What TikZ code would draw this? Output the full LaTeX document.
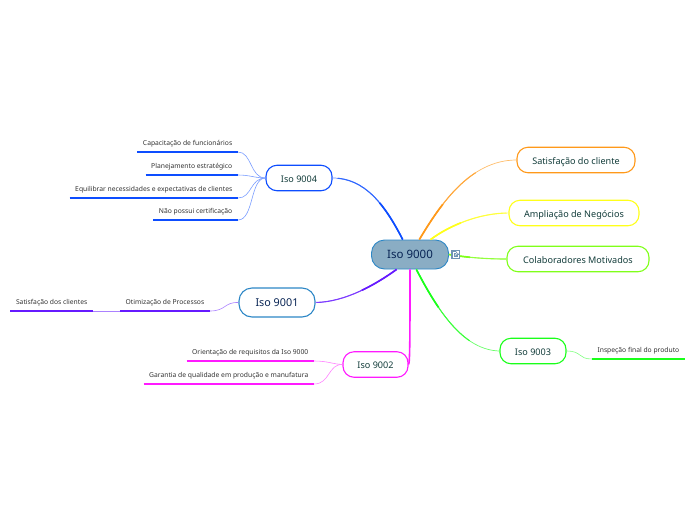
\documentclass[tikz,border=0pt]{standalone}
\usepackage{fontspec}
\setmainfont{Noto Sans}
\usepackage{xcolor}
\usepackage{tikz}
\usetikzlibrary{positioning, calc}
\definecolor{rootfill}{RGB}{138,173,196}
\definecolor{rootline}{RGB}{45,135,198}
\definecolor{mynavy}{RGB}{8,36,84}
\definecolor{mygreen}{RGB}{18,60,58}
\definecolor{leaftext}{RGB}{50,50,50}
\definecolor{myorange}{RGB}{255,153,26}
\definecolor{myyellow}{RGB}{255,255,26}
\definecolor{mylime}{RGB}{128,255,26}
\definecolor{mygrass}{RGB}{26,255,26}
\definecolor{mymagenta}{RGB}{255,26,255}
\definecolor{mypurple}{RGB}{102,26,255}
\definecolor{myblue}{RGB}{13,77,255}
\definecolor{iconfill}{RGB}{112,148,180}
\newcommand{\rootlink}[5]{%
  \draw[line width=0.7pt, color=#1!65] #2 .. controls #3 and #4 .. #5;
  \begin{scope}
    \clip (root) circle (105pt);
    \draw[line width=1.1pt, color=#1!85] #2 .. controls #3 and #4 .. #5;
  \end{scope}
  \begin{scope}
    \clip (root) circle (60pt);
    \draw[line width=1.7pt, color=#1] #2 .. controls #3 and #4 .. #5;
  \end{scope}}
\tikzset{
  rootnode/.style={rectangle, draw=rootline, fill=rootfill, rounded corners=13pt,
    minimum width=77pt, minimum height=29pt, line width=0.9pt,
    text=mynavy, font=\fontsize{11.5}{13}\selectfont},
  branch/.style={rectangle, draw=#1, fill=white, rounded corners=11pt,
    minimum height=25.5pt, line width=1.1pt, inner sep=0pt, text height=10pt, text depth=2pt,
    text=mygreen, font=\fontsize{9.1}{11}\selectfont},
  leaf/.style={rectangle, anchor=south east, inner xsep=5.5pt, inner ysep=0pt,
    minimum height=16pt, text=leaftext, font=\fontsize{6.75}{8}\selectfont},
  leafline/.style={line width=2pt},
  sublink/.style={line width=0.6pt, color=#1!55}
}
\begin{document}
\begin{tikzpicture}[x=1pt, y=-1pt]
  \useasboundingbox (0,0) rectangle (696,520);
  % ── Central node ───────────────────────────────────────────────────────────
  \node[rootnode] (root) at (410,254.5) {Iso 9000};

  % ── Right side ─────────────────────────────────────────────────────────────
  \node[branch=myorange, minimum width=118pt] (sat) at (576,160) {Satisfação do cliente};
  \node[branch=myyellow, minimum width=130pt] (amp) at (574,213) {Ampliação de Negócios};
  \node[branch=mylime, minimum width=142pt] (col) at (578,259) {Colaboradores Motivados};
  \node[branch=mygrass, minimum width=66pt] (iso3) at (533,351) {Iso 9003};
  \node[leaf] (insp) at (685,359) {Inspeção final do produto};

  % ── Left side ──────────────────────────────────────────────────────────────
  \node[branch=myblue, minimum width=66pt] (iso4) at (299,178) {Iso 9004};
  \node[leaf] (cap) at (238,152) {Capacitação de funcionários};
  \node[leaf] (pla) at (238,175) {Planejamento estratégico};
  \node[leaf] (equ) at (238,198) {Equilibrar necessidades e expectativas de clientes};
  \node[leaf] (nao) at (238,220) {Não possui certificação};

  \node[branch=rootline, minimum width=76pt, minimum height=29pt, rounded corners=13pt,
    text=mynavy, font=\fontsize{10.8}{12}\selectfont] (iso1) at (277,302.5) {Iso 9001};
  \node[leaf] (oti) at (210,311) {Otimização de Processos};
  \node[leaf] (cli) at (93,311) {Satisfação dos clientes};

  \node[branch=mymagenta, minimum width=65pt] (iso2) at (375.5,364.5) {Iso 9002};
  \node[leaf] (ori) at (314,361) {Orientação de requisitos da Iso 9000};
  \node[leaf] (gar) at (314,384) {Garantia de qualidade em produção e manufatura};

  % ── Links from the centre ──────────────────────────────────────────────────
  \rootlink{myblue}{(root.116)}{(385,205)}{(365,178)}{(iso4.east)}
  \rootlink{myorange}{(root.58)}{(440,205)}{(470,160)}{(sat.west)}
  \rootlink{myyellow}{(root.36)}{(450,225)}{(480,213)}{(amp.west)}
  \rootlink{mylime}{(root.east)}{(470,258)}{(490,259)}{(col.west)}
  \rootlink{mygrass}{(root.-67)}{(440,315)}{(465,350)}{(iso3.west)}
  \rootlink{mypurple}{(root.-132)}{(375,285)}{(345,302)}{(iso1.east)}
  \draw[line width=1.6pt, color=mymagenta] (root.south) .. controls (410,330) and (410,364) .. (iso2.east);

  % ── Links to the leaves ────────────────────────────────────────────────────
  \draw[sublink=myblue] (iso4.west) .. controls (250,178) and (252,152) .. (cap.south east);
  \draw[sublink=myblue] (iso4.west) .. controls (255,178) and (250,175) .. (pla.south east);
  \draw[sublink=myblue] (iso4.west) .. controls (250,178) and (252,198) .. (equ.south east);
  \draw[sublink=myblue] (iso4.west) .. controls (250,178) and (254,220) .. (nao.south east);
  \draw[sublink=mypurple] (iso1.west) .. controls (224,302) and (226,311) .. (oti.south east);
  \draw[sublink=mypurple] (oti.south west) -- (cli.south east);
  \draw[sublink=mymagenta] (iso2.west) .. controls (332,364) and (328,361) .. (ori.south east);
  \draw[sublink=mymagenta] (iso2.west) .. controls (328,364) and (330,384) .. (gar.south east);
  \draw[sublink=mygrass] (iso3.east) .. controls (582,351) and (578,359) .. (insp.south west);

  % ── Underlines ─────────────────────────────────────────────────────────────
  \foreach \leafname/\leafcolor in {insp/mygrass, cap/myblue, pla/myblue, equ/myblue, nao/myblue,
      oti/mypurple, cli/mypurple, ori/mymagenta, gar/mymagenta}
    \draw[leafline, color=\leafcolor] (\leafname.south west) -- (\leafname.south east);

  % ── Link icon ──────────────────────────────────────────────────────────────
  \node[rectangle, fill=iconfill, minimum size=9pt, inner sep=0pt] (icon) at (455.5,254.5) {};
  \draw[white, line width=0.6pt] ($(icon)+(0.5,-2.5)$) -- ($(icon)+(-2.5,-2.5)$) -- ($(icon)+(-2.5,3)$)
    -- ($(icon)+(3,3)$) -- ($(icon)+(3,0.5)$);
  \draw[white, line width=0.6pt] ($(icon)+(-0.5,1)$) -- ($(icon)+(3,-3)$) ($(icon)+(0.8,-3)$) -- ($(icon)+(3,-3)$) -- ($(icon)+(3,-1)$);
\end{tikzpicture}
\end{document}
